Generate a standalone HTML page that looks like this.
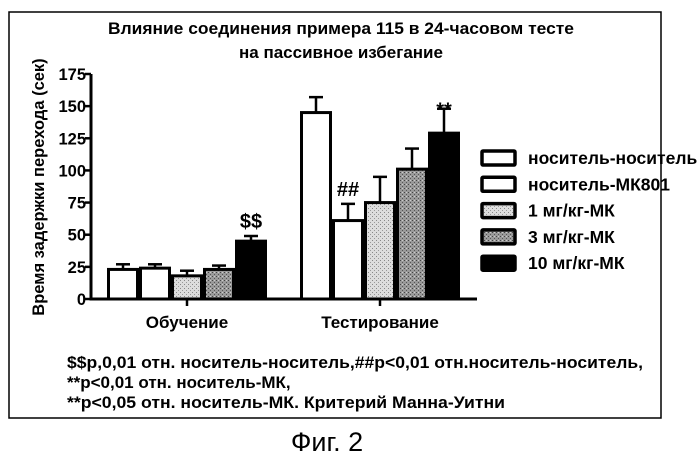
<!DOCTYPE html>
<html><head><meta charset="utf-8"><style>
body{margin:0;background:#fff;}
svg{display:block;font-family:"Liberation Sans","DejaVu Sans",sans-serif;}
</style></head><body>
<svg width="700" height="456" viewBox="0 0 700 456">
<defs>
<pattern id="p1" width="4" height="4" patternUnits="userSpaceOnUse"><rect width="4" height="4" fill="#ddd"/><rect x="0" y="0" width="1" height="1" fill="#888"/><rect x="2" y="2" width="1" height="1" fill="#999"/></pattern>
<pattern id="p2" width="4" height="4" patternUnits="userSpaceOnUse"><rect width="4" height="4" fill="#999"/><rect x="0" y="0" width="1" height="1" fill="#444"/><rect x="2" y="2" width="1" height="1" fill="#555"/><rect x="2" y="0" width="1" height="1" fill="#ccc"/></pattern>
</defs>
<rect x="9" y="12" width="652" height="406" fill="none" stroke="#000" stroke-width="1.5"/>
<text x="341" y="34" text-anchor="middle" font-size="17" font-weight="bold" textLength="466" lengthAdjust="spacingAndGlyphs">Влияние соединения примера 115 в 24-часовом тесте</text>
<text x="341" y="58" text-anchor="middle" font-size="17" font-weight="bold">на пассивное избегание</text>
<text transform="translate(44,187) rotate(-90)" text-anchor="middle" font-size="16.5" font-weight="bold">Время задержки перехода (сек)</text>
<g id="plot"></g>
<g id="legend"></g>
<text x="67" y="368" font-size="17" font-weight="bold" textLength="576" lengthAdjust="spacingAndGlyphs">$$p,0,01 отн. носитель-носитель,##p&lt;0,01 отн.носитель-носитель,</text>
<text x="67" y="388" font-size="17" font-weight="bold">**p&lt;0,01 отн. носитель-МК,</text>
<text x="67" y="408" font-size="17" font-weight="bold" textLength="438" lengthAdjust="spacingAndGlyphs">**p&lt;0,05 отн. носитель-МК. Критерий Манна-Уитни</text>
<text x="327" y="451" text-anchor="middle" font-size="27">Фиг. 2</text>
</svg>
<script>
const categories=["Обучение","Тестирование"];
const seriesNames=["носитель-носитель","носитель-МК801","1 мг/кг-МК","3 мг/кг-МК","10 мг/кг-МК"];
const means=[[23,24,18,23,45],[145,61,75,101,129]];
const errTops=[[27,27,22,26,49],[157,74,95,117,148]];
const annotations=[["","","","","$$"],["","##","","","**"]];
const yTicks=[0,25,50,75,100,125,150,175];
const fills=["#fff","#fff","url(#p1)","url(#p2)","#000"];
const NS="http://www.w3.org/2000/svg";
const X0=91,Y0=299,YTOP=74,YMAX=175;
function y(v){return Y0-(v/YMAX)*(Y0-YTOP);}
const groupStart=[107,300],barW=32;
function bx(g,i){return groupStart[g]+i*barW;}
function mk(tag,attrs,parent){const e=document.createElementNS(NS,tag);for(const k in attrs)e.setAttribute(k,attrs[k]);parent.appendChild(e);return e;}
const plot=document.getElementById('plot');
means.forEach((arr,g)=>arr.forEach((v,i)=>{
  const x=bx(g,i);
  const ln=mk('line',{x1:x+barW/2,x2:x+barW/2,y1:y(v),y2:y(errTops[g][i]),stroke:'#000','stroke-width':2.5},plot);
  
  
  const cap=mk('line',{x1:x+barW/2-7,x2:x+barW/2+7,y1:y(errTops[g][i]),y2:y(errTops[g][i]),stroke:'#000','stroke-width':2.5},plot);
  
  
  const r=mk('rect',{x:x+1.5,y:y(v),width:barW-3,height:Y0-y(v),fill:fills[i],stroke:'#000','stroke-width':3},plot);
  
  
  if(annotations[g][i]){
    const off=annotations[g][i]==='**'?-8:8;
    const t=mk('text',{x:x+barW/2,y:y(errTops[g][i])-off,'text-anchor':'middle','font-size':20,'font-weight':'bold'},plot);
    t.textContent=annotations[g][i];
    
    
  }
}));
const ya=mk('line',{x1:X0,x2:X0,y1:YTOP,y2:Y0+1.5,stroke:'#000','stroke-width':3},plot);


const xa=mk('line',{x1:X0,x2:477,y1:Y0,y2:Y0,stroke:'#000','stroke-width':3},plot);


yTicks.forEach(v=>{
  const tk=mk('line',{x1:X0-6,x2:X0,y1:y(v),y2:y(v),stroke:'#000','stroke-width':2.5},plot);
  
  
  const t=mk('text',{x:X0-5,y:y(v)+6,'text-anchor':'end','font-size':16.5,'font-weight':'bold'},plot);
  t.textContent=v;
  
  
});
categories.forEach((c,g)=>{
  const cx=bx(g,0)+barW*2.5;
  const tk=mk('line',{x1:cx,x2:cx,y1:Y0,y2:Y0+7,stroke:'#000','stroke-width':2.5},plot);
  
  
  const t=mk('text',{x:cx,y:328,'text-anchor':'middle','font-size':17,'font-weight':'bold'},plot);
  t.textContent=c;
  
  
});
const lg=document.getElementById('legend');
seriesNames.forEach((n,i)=>{
  const cy=158+i*26.3;
  const r=mk('rect',{x:482,y:cy-7,width:33,height:14,fill:fills[i],stroke:'#000','stroke-width':3.5,rx:1},lg);
  
  
  const t=mk('text',{x:528,y:cy+6,'font-size':17.5,'font-weight':'bold'},lg);
  t.textContent=n;
  
  
});
</script>
</body></html>
